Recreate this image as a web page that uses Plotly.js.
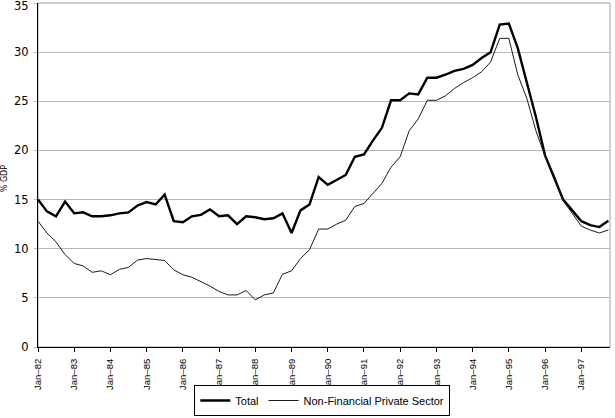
<!DOCTYPE html>
<html>
<head>
<meta charset="utf-8">
<script src="https://cdn.plot.ly/plotly-3.0.1.min.js"></script>
<style>html,body{margin:0;padding:0;background:#fff;}#chart{width:615px;height:418px;}</style>
</head>
<body>
<div id="chart"></div>
<script>
// Quarterly observations, Jan-82 .. Oct-97
const quarters = [
 "1982-01-01","1982-04-01","1982-07-01","1982-10-01",
 "1983-01-01","1983-04-01","1983-07-01","1983-10-01",
 "1984-01-01","1984-04-01","1984-07-01","1984-10-01",
 "1985-01-01","1985-04-01","1985-07-01","1985-10-01",
 "1986-01-01","1986-04-01","1986-07-01","1986-10-01",
 "1987-01-01","1987-04-01","1987-07-01","1987-10-01",
 "1988-01-01","1988-04-01","1988-07-01","1988-10-01",
 "1989-01-01","1989-04-01","1989-07-01","1989-10-01",
 "1990-01-01","1990-04-01","1990-07-01","1990-10-01",
 "1991-01-01","1991-04-01","1991-07-01","1991-10-01",
 "1992-01-01","1992-04-01","1992-07-01","1992-10-01",
 "1993-01-01","1993-04-01","1993-07-01","1993-10-01",
 "1994-01-01","1994-04-01","1994-07-01","1994-10-01",
 "1995-01-01","1995-04-01","1995-07-01","1995-10-01",
 "1996-01-01","1996-04-01","1996-07-01","1996-10-01",
 "1997-01-01","1997-04-01","1997-07-01","1997-10-01"
];
const total = [
 15.0,13.8,13.3,14.8, 13.6,13.7,13.3,13.3, 13.4,13.6,13.7,14.4,
 14.75,14.5,15.5,12.8, 12.7,13.3,13.45,14.0, 13.3,13.4,12.5,13.3,
 13.2,13.0,13.1,13.6, 11.6,13.9,14.5,17.3, 16.5,17.0,17.5,19.35,
 19.6,21.0,22.3,25.1, 25.1,25.8,25.7,27.4, 27.4,27.7,28.1,28.3,
 28.7,29.4,30.0,32.8, 32.9,30.4,27.0,23.4, 19.5,17.3,15.0,13.9,
 12.8,12.4,12.2,12.85
];
const nfps = [
 12.8,11.6,10.7,9.4, 8.5,8.25,7.6,7.75, 7.35,7.9,8.1,8.85,
 9.0,8.9,8.8,7.85, 7.35,7.1,6.65,6.2, 5.65,5.3,5.3,5.75,
 4.8,5.3,5.5,7.4, 7.75,9.0,9.9,12.0, 12.0,12.5,12.9,14.3,
 14.6,15.6,16.65,18.3, 19.35,22.0,23.2,25.1, 25.1,25.55,26.3,26.9,
 27.4,28.0,29.0,31.4, 31.4,27.7,25.3,22.0, 19.4,17.5,14.9,13.6,
 12.3,11.9,11.6,11.9
];
const seriesNames = ["Total", "Non-Financial Private Sector"];
const yTicks = [0,5,10,15,20,25,30,35];
const yMax = 35;

const sansFont = '"Liberation Sans Narrow", "Arial Narrow", "Liberation Sans", Arial, sans-serif';
const yFont = {family: '"DejaVu Sans", Verdana, sans-serif', size: 11.5, color: '#000'};

const data = [
 {x: quarters, y: total, name: seriesNames[0], type: 'scatter', mode: 'lines',
  line: {color: '#000000', width: 2.4}},
 {x: quarters, y: nfps, name: seriesNames[1], type: 'scatter', mode: 'lines',
  line: {color: '#1a1a1a', width: 1}}
];

const layout = {
 width: 615, height: 418,
 margin: {l: 38, r: 5, t: 3, b: 71, pad: 0, autoexpand: false},
 paper_bgcolor: '#ffffff', plot_bgcolor: '#ffffff',
 showlegend: true,
 legend: {orientation: 'h', x: 0.497, xanchor: 'center', y: -0.2006, yanchor: 'bottom',
  bordercolor: '#000000', borderwidth: 1, bgcolor: '#ffffff',
  font: {family: sansFont, size: 11, color: '#000'}, traceorder: 'normal',
  itemwidth: 30, tracegroupgap: 0},
 xaxis: {
  type: 'date', range: ['1982-01-01', '1997-10-17'],
  tick0: '1982-01-01', dtick: 'M12', tickformat: '%b\u2013%y',
  tickangle: -90, ticks: 'outside', ticklen: 4, tickcolor: '#000',
  ticklabelstandoff: 3,
  showgrid: false, zeroline: false, showline: true, linecolor: '#000', linewidth: 1,
  tickfont: {family: sansFont, size: 9.5, color: '#000'}, fixedrange: true
 },
 yaxis: {
  range: [-0.0001, yMax + 0.0001], tickvals: yTicks,
  ticktext: yTicks.map(v => v === yMax ? '' : String(v)),
  ticks: 'outside', ticklen: 3, tickcolor: '#b8b8b8', ticklabelstandoff: 3,
  showgrid: true, gridcolor: '#b8b8b8', gridwidth: 1,
  zeroline: false, showline: true, linecolor: '#000', linewidth: 1,
  tickfont: yFont, fixedrange: true
 },
 shapes: [
  {type: 'rect', xref: 'paper', yref: 'paper', x0: 0, x1: 1, y0: 0, y1: 1,
   line: {color: '#a0a0a0', width: 1}, layer: 'below'}
 ],
 annotations: [
  {text: '% GDP', xref: 'paper', yref: 'paper', x: -0.058, y: 0.49,
   xanchor: 'center', yanchor: 'middle', textangle: -90, showarrow: false,
   font: {family: '"DejaVu Sans", Verdana, sans-serif', size: 8, color: '#000'}},
  {text: String(yMax), xref: 'paper', yref: 'y', x: -0.012, y: yMax, yshift: -3,
   xanchor: 'right', yanchor: 'middle', showarrow: false, font: yFont}
 ]
};

Plotly.newPlot('chart', data, layout, {displayModeBar: false, staticPlot: true});
</script>
</body>
</html>
